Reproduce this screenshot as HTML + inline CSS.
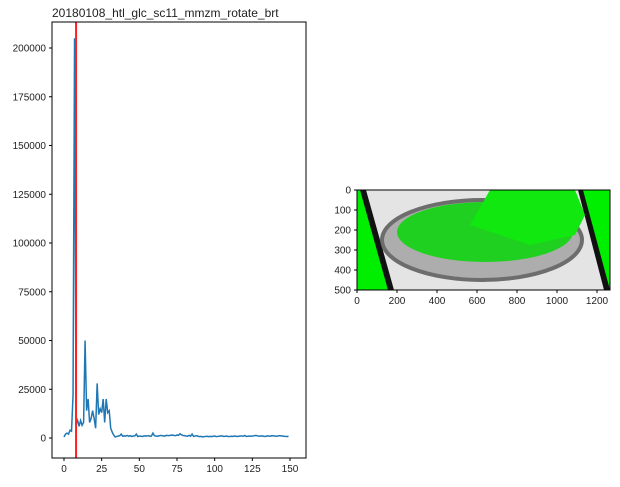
<!DOCTYPE html>
<html><head><meta charset="utf-8"><style>
body{margin:0;background:#fff;font-family:"Liberation Sans",sans-serif}
text{font-family:"Liberation Sans",sans-serif;font-size:10px;fill:#222}
</style></head><body>
<svg id="s" width="620" height="482" xmlns="http://www.w3.org/2000/svg">
<defs>
<clipPath id="lc"><rect x="52" y="22" width="254" height="436"/></clipPath>
<clipPath id="ic"><rect x="357" y="190" width="253" height="100"/></clipPath>
</defs>
<text x="52" y="17" font-size="12" style="font-size:12px">20180108_htl_glc_sc11_mmzm_rotate_brt</text>
<g id="left"></g>
<g id="img" clip-path="url(#ic)">
<rect x="357" y="190" width="253" height="100" fill="#e4e4e4"/>
<polygon points="357,190 363,190 391,290 357,290" fill="#00ee00"/>
<polygon points="360,190 366,190 394,290 388,290" fill="#111"/>
<polygon points="578,190 610,190 610,290 607,290" fill="#00ee00"/>
<polygon points="578,190 583,190 610,290 604,290" fill="#111"/>
<ellipse cx="482" cy="240" rx="100" ry="40" fill="#a0a0a0" stroke="#505050" stroke-width="4" opacity="0.8"/>
<ellipse cx="485" cy="232" rx="88" ry="30" fill="#20d020"/>
<polygon points="490,190 575,190 585,215 575,235 530,245 470,225" fill="#10e810"/>
</g>
<rect x="357" y="190" width="253" height="100" fill="none" stroke="#000" stroke-width="1"/>
<g id="imgax"></g>
</svg>
<script>
const xs=[];for(let i=0;i<155;i++)xs.push(i);
const values=[500,2000,2500,2000,4000,3500,22000,205000,7000,9000,6000,9000,6500,8000,50000,14000,20000,8000,10000,14000,10000,5000,28000,12000,15000,13000,20000,8000,20000,13000,14000,5000,3000,1500,500,800,1000,1200,2000,900,1100,1000,1300,900,1200,800,1000,1100,2000,700,1000,900,800,1000,1100,1000,1200,900,1000,2500,1200,1000,900,1100,1300,1200,1100,1000,1400,1200,1300,1400,1500,1300,1200,1500,1400,2200,1600,1300,1200,1000,900,1400,900,2000,800,1000,1200,900,700,800,600,700,800,900,700,800,700,900,1000,700,800,900,1000,1100,800,900,1000,700,800,900,800,1000,900,800,900,1000,1000,900,1300,800,900,1000,900,1000,1100,1300,1200,1000,900,1100,1000,800,900,1100,1000,900,1200,1100,1000,900,1000,1200,1100,1000,900,800,700,1000];
const redLine=8;
const xTicks=[0,25,50,75,100,125,150];
const yTicks=[0,25000,50000,75000,100000,125000,150000,175000,200000];
const imgXTicks=[0,200,400,600,800,1000,1200];
const imgYTicks=[0,100,200,300,400,500];
const NS='http://www.w3.org/2000/svg';
function mk(t,a,p){const e=document.createElementNS(NS,t);for(const k in a)e.setAttribute(k,a[k]);p.appendChild(e);return e;}
const X=v=>64+v*(226/150), Y=v=>438-v*(390/200000);
const L=document.getElementById('left');
let d='';values.forEach((v,i)=>{d+=(i?'L':'M')+X(xs[i]).toFixed(2)+','+Y(v).toFixed(2);});
const g=mk('g',{'clip-path':'url(#lc)'},L);
const ln=mk('path',{d:d,fill:'none',stroke:'#1f77b4','stroke-width':1.5},g);


const rl=mk('line',{x1:X(redLine),x2:X(redLine),y1:22,y2:458,stroke:'#ff2020','stroke-width':2},g);


const fr=mk('rect',{x:52,y:22,width:254,height:436,fill:'none',stroke:'#000'},L);


xTicks.forEach(t=>{const x=X(t);mk('line',{x1:x,x2:x,y1:458,y2:461,stroke:'#000'},L);
const tx=mk('text',{x:x,y:472,'text-anchor':'middle'},L);tx.textContent=t;

});
yTicks.forEach(t=>{const y=Y(t);mk('line',{x1:49,x2:52,y1:y,y2:y,stroke:'#000'},L);
const tx=mk('text',{x:46,y:y+3.5,'text-anchor':'end'},L);tx.textContent=t;

});
const IA=document.getElementById('imgax');
const IX=v=>357+v*0.2, IY=v=>190+v*0.2;
imgXTicks.forEach(t=>{const x=IX(t);mk('line',{x1:x,x2:x,y1:290,y2:293,stroke:'#000'},IA);
const tx=mk('text',{x:x,y:304,'text-anchor':'middle'},IA);tx.textContent=t;

});
imgYTicks.forEach(t=>{const y=IY(t);mk('line',{x1:354,x2:357,y1:y,y2:y,stroke:'#000'},IA);
const tx=mk('text',{x:351,y:y+3.5,'text-anchor':'end'},IA);tx.textContent=t;

});
</script>
</body></html>
